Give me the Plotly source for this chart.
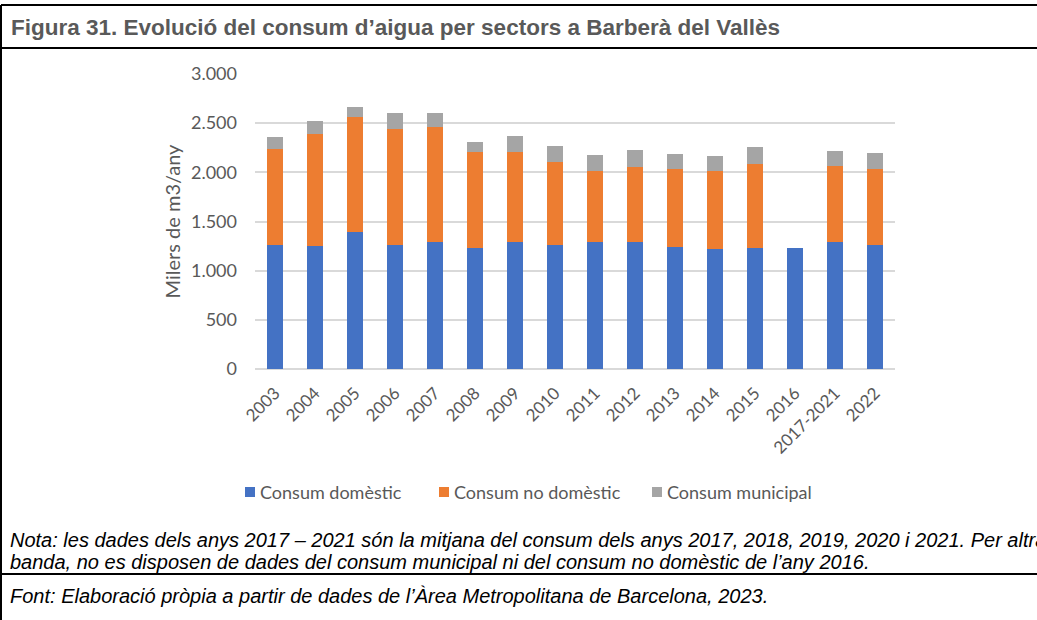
import plotly.graph_objects as go

# ---- data ----
years = ["2003", "2004", "2005", "2006", "2007", "2008", "2009", "2010",
         "2011", "2012", "2013", "2014", "2015", "2016", "2017-2021", "2022"]
domestic = [1261, 1251, 1390, 1261, 1292, 1228, 1292, 1261,
            1292, 1292, 1238, 1218, 1228, 1228, 1292, 1258]
non_domestic = [977, 1137, 1170, 1180, 1170, 976, 912, 848,
                719, 763, 793, 793, 857, None, 773, 773]
municipal = [122, 135, 102, 159, 138, 105, 169, 159,
             169, 170, 159, 159, 170, None, 150, 169]
series_names = ["Consum domèstic", "Consum no domèstic", "Consum municipal"]
y_tickvals = [0, 500, 1000, 1500, 2000, 2500, 3000]
y_ticktext = ["0", "500", "1.000", "1.500", "2.000", "2.500", "3.000"]

title_text = "Figura 31. Evolució del consum d’aigua per sectors a Barberà del Vallès"
note_line1 = ("Nota: les dades dels anys 2017 – 2021 són la mitjana del consum dels anys "
              "2017, 2018, 2019, 2020 i 2021. Per altra")
note_line2 = ("banda, no es disposen de dades del consum municipal ni del consum no "
              "domèstic de l’any 2016.")
source_text = "Font: Elaboració pròpia a partir de dades de l’Àrea Metropolitana de Barcelona, 2023."

# ---- layout geometry (pixels) ----
W, H = 1037, 620
PL, PR, PT, PB = 255, 895, 74, 369


def px(x):
    return (x - PL) / (PR - PL)


def py(y):
    return (PB - y) / (PB - PT)


colors = ["#4472C4", "#ED7D31", "#A5A5A5"]
gray_text = "#595959"
chart_font = "Lato"

fig = go.Figure()
for name, vals, col in zip(series_names, [domestic, non_domestic, municipal], colors):
    fig.add_trace(go.Bar(x=years, y=vals, name=name, marker_color=col,
                         marker_line_width=0, width=0.4, showlegend=False))

fig.update_layout(
    barmode="stack",
    width=W, height=H,
    margin=dict(l=PL, r=W - PR, t=PT, b=H - PB, pad=0),
    paper_bgcolor="white", plot_bgcolor="white",
    font=dict(family=chart_font, color=gray_text, size=16),
    showlegend=False,
)
fig.update_yaxes(range=[0, 3000], tickvals=y_tickvals, ticktext=y_ticktext,
                 showgrid=True, gridcolor="#D9D9D9", gridwidth=1.5,
                 zeroline=True, zerolinecolor="#D9D9D9", zerolinewidth=1.5,
                 showline=False, ticks="", ticklabelstandoff=17,
                 tickfont=dict(size=18, color=gray_text, family=chart_font),
                 title=dict(text="Milers de m3/any", standoff=4,
                            font=dict(size=20, color=gray_text, family=chart_font)))
fig.update_xaxes(tickangle=-45, showgrid=False, showline=False, ticks="",
                 ticklabelstandoff=10,
                 tickfont=dict(size=17, color=gray_text, family=chart_font))

# ---- legend (drawn as keys + text) ----
legend_x = [245, 439, 652]
legend_y = 492
for name, col, lx in zip(series_names, colors, legend_x):
    fig.add_shape(type="rect", xref="paper", yref="paper",
                  x0=px(lx), x1=px(lx + 10), y0=py(legend_y - 5), y1=py(legend_y + 5),
                  fillcolor=col, line_width=0)
    fig.add_annotation(text=name, xref="paper", yref="paper",
                       x=px(lx + 13), y=py(legend_y), xanchor="left", yanchor="middle",
                       showarrow=False,
                       font=dict(family=chart_font, size=18, color=gray_text))

# ---- frame lines ----
line_style = dict(color="black", width=2)
xl, xr = px(1), px(W + 5)
for yy in [5, 48, 574]:
    fig.add_shape(type="line", xref="paper", yref="paper", x0=xl, x1=xr,
                  y0=py(yy), y1=py(yy), line=line_style)
fig.add_shape(type="line", xref="paper", yref="paper", x0=xl, x1=xl,
              y0=py(5), y1=py(H + 5), line=line_style)

# ---- texts ----
fig.add_annotation(text="<b>" + title_text + "</b>", xref="paper", yref="paper",
                   x=px(9), y=py(27), xanchor="left", yanchor="middle", showarrow=False,
                   font=dict(family="Liberation Sans, Arial", size=22.5, color=gray_text))
for txt, yy in [(note_line1, 540), (note_line2, 562), (source_text, 596)]:
    fig.add_annotation(text="<i>" + txt + "</i>", xref="paper", yref="paper",
                       x=px(8), y=py(yy), xanchor="left", yanchor="middle", showarrow=False,
                       font=dict(family="Liberation Sans, Arial", size=20, color="black"))

fig.write_html("out.html", config={"displayModeBar": False},
               post_script="document.body.style.margin='0px';")
